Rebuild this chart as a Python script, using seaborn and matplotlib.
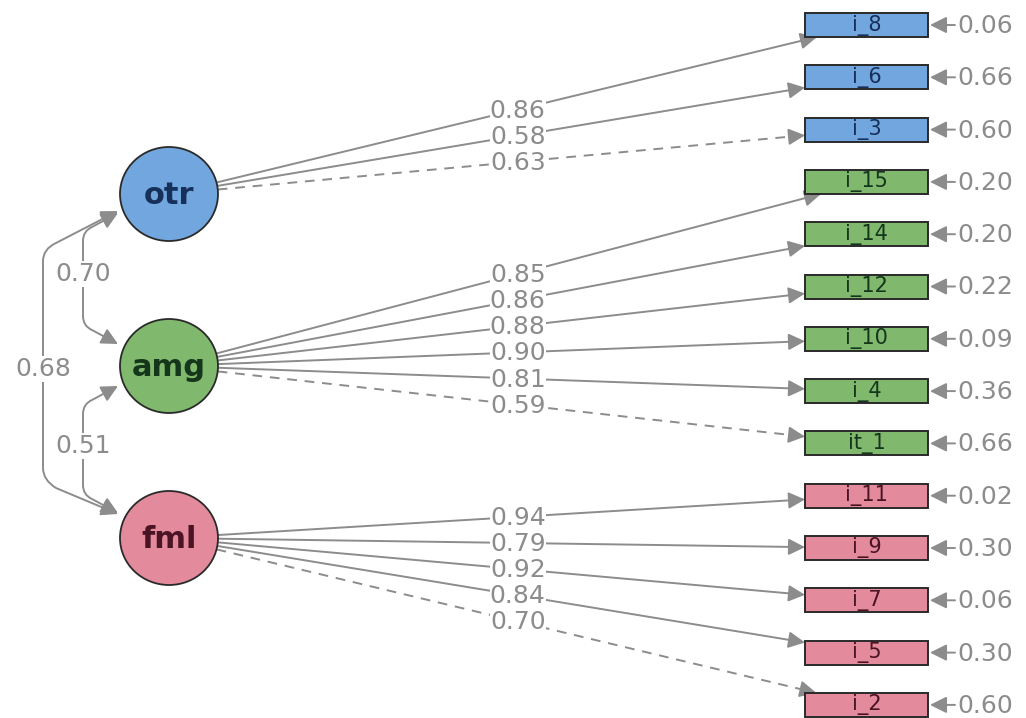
import numpy as np
import pandas as pd
import seaborn as sns
import matplotlib.pyplot as plt
from matplotlib.patches import Ellipse, Rectangle, FancyArrowPatch
from matplotlib.path import Path

# model estimates (standardised)
latents = ['otr', 'amg', 'fml']
manifests = ['i_8', 'i_6', 'i_3', 'i_15', 'i_14', 'i_12', 'i_10', 'i_4', 'it_1',
             'i_11', 'i_9', 'i_7', 'i_5', 'i_2']
factor_of = [0, 0, 0, 1, 1, 1, 1, 1, 1, 2, 2, 2, 2, 2]
loadings = [0.86, 0.58, 0.63, 0.85, 0.86, 0.88, 0.90, 0.81, 0.59,
            0.94, 0.79, 0.92, 0.84, 0.70]
fixed = [False, False, True, False, False, False, False, False, True,
         False, False, False, False, True]
residuals = ['0.06', '0.66', '0.60', '0.20', '0.20', '0.22', '0.09', '0.36', '0.66',
             '0.02', '0.30', '0.06', '0.30', '0.60']
cov_from = [0, 1, 0]
cov_to = [1, 2, 2]
cov_vals = [0.70, 0.51, 0.68]

fill_cols = ['#72a6de', '#80b86d', '#e48a9d']
text_cols = ['#16305a', '#14361a', '#4a1424']
grey = '#8c8c8c'

sns.set_theme(style='white')
plt.rcParams['font.family'] = ['DejaVu Sans']

fig = plt.figure(figsize=(10.26, 7.18), dpi=100)
ax = fig.add_axes([0, 0, 1, 1])
ax.set_xlim(0, 1026)
ax.set_ylim(718, 0)
ax.axis('off')

# layout
lat_x = 169
lat_y = [194, 366, 538]
rx, ry = 49, 47
box_x = 866.5
box_y = [25 + 52.3 * k for k in range(len(manifests))]
bw, bh = 123, 24

head = dict(arrowstyle='-|>,head_length=0.5,head_width=0.25', color=grey,
            mutation_scale=20, shrinkA=0, shrinkB=0, lw=1.4)

# latent circles
for i, name in enumerate(latents):
    ax.add_patch(Ellipse((lat_x, lat_y[i]), 2 * rx, 2 * ry, facecolor=fill_cols[i],
                         edgecolor='#2a2a2a', lw=1.3, zorder=3))
    ax.text(lat_x, lat_y[i] + 1, name, ha='center', va='center', fontsize=22,
            fontweight='bold', color=text_cols[i], zorder=4)

# manifest boxes + residuals
for k, name in enumerate(manifests):
    f = factor_of[k]
    ax.add_patch(Rectangle((box_x - bw / 2, box_y[k] - bh / 2), bw, bh,
                           facecolor=fill_cols[f], edgecolor='#2a2a2a', lw=1.4, zorder=3))
    ax.text(box_x, box_y[k], name, ha='center', va='center', fontsize=15,
            color=text_cols[f], zorder=4)
    ax.annotate('', xy=(box_x + bw / 2 + 2, box_y[k]), xytext=(955, box_y[k]),
                arrowprops=head, zorder=2)
    ax.text(957, box_y[k] + 1, residuals[k], ha='left', va='center', fontsize=18,
            color=grey, zorder=4)

# loadings
for k in range(len(manifests)):
    f = factor_of[k]
    x0, y0 = lat_x, lat_y[f]
    x1, y1 = box_x, box_y[k]
    dx, dy = x1 - x0, y1 - y0
    t0 = 1 / np.sqrt((dx / rx) ** 2 + (dy / ry) ** 2)
    t1 = 1 - min((bw / 2) / abs(dx), (bh / 2) / abs(dy) if dy != 0 else 1)
    sx, sy = x0 + t0 * dx, y0 + t0 * dy
    ex, ey = x0 + t1 * dx, y0 + t1 * dy
    ux, uy = dx / np.hypot(dx, dy), dy / np.hypot(dx, dy)
    ax.plot([sx, ex - 10 * ux], [sy, ey - 10 * uy], color=grey, lw=1.4,
            ls=(0, (5, 4)) if fixed[k] else '-', zorder=1)
    ax.annotate('', xy=(ex, ey), xytext=(ex - 16 * ux, ey - 16 * uy),
                arrowprops=head, zorder=2)
    ax.text((x0 + x1) / 2, (y0 + y1) / 2 + 1, f'{loadings[k]:.2f}', ha='center',
            va='center', fontsize=18, color=grey, zorder=5,
            bbox=dict(boxstyle='square,pad=0.0', fc='white', ec='none'))

# covariances (curved double-headed arrows on the left)
def cov_path(ya, yb, xl):
    verts = [(118, ya), (xl + 9, ya + 14), (xl, ya + 18), (xl, ya + 28),
             (xl, yb - 28), (xl, yb - 18), (xl + 9, yb - 14), (118, yb)]
    codes = [Path.MOVETO, Path.LINETO, Path.CURVE3, Path.CURVE3,
             Path.LINETO, Path.CURVE3, Path.CURVE3, Path.LINETO]
    return Path(verts, codes)

cov_x = [83, 83, 43]
cov_ends = [(213, 344), (386, 513), (211, 514)]
for c in range(len(cov_vals)):
    ya, yb = cov_ends[c]
    xl = cov_x[c]
    if xl < 80:
        p = Path([(118, ya), (56, ya + 32), (xl, ya + 38), (xl, ya + 50),
                  (xl, yb - 46), (xl, yb - 34), (56, yb - 26), (118, yb)],
                 [Path.MOVETO, Path.LINETO, Path.CURVE3, Path.CURVE3,
                  Path.LINETO, Path.CURVE3, Path.CURVE3, Path.LINETO])
    else:
        p = cov_path(ya, yb, xl)
    ax.add_patch(FancyArrowPatch(path=p, arrowstyle='<|-|>,head_length=0.5,head_width=0.25',
                                 color=grey, lw=1.4, mutation_scale=20, zorder=1))
    ax.text(xl, (lat_y[cov_from[c]] + lat_y[cov_to[c]]) / 2 - (6 if xl > 80 else -3),
            f'{cov_vals[c]:.2f}', ha='center', va='center', fontsize=18, color=grey,
            zorder=5, bbox=dict(boxstyle='square,pad=0.05', fc='white', ec='none'))

fig.savefig('out.png', dpi=100)
